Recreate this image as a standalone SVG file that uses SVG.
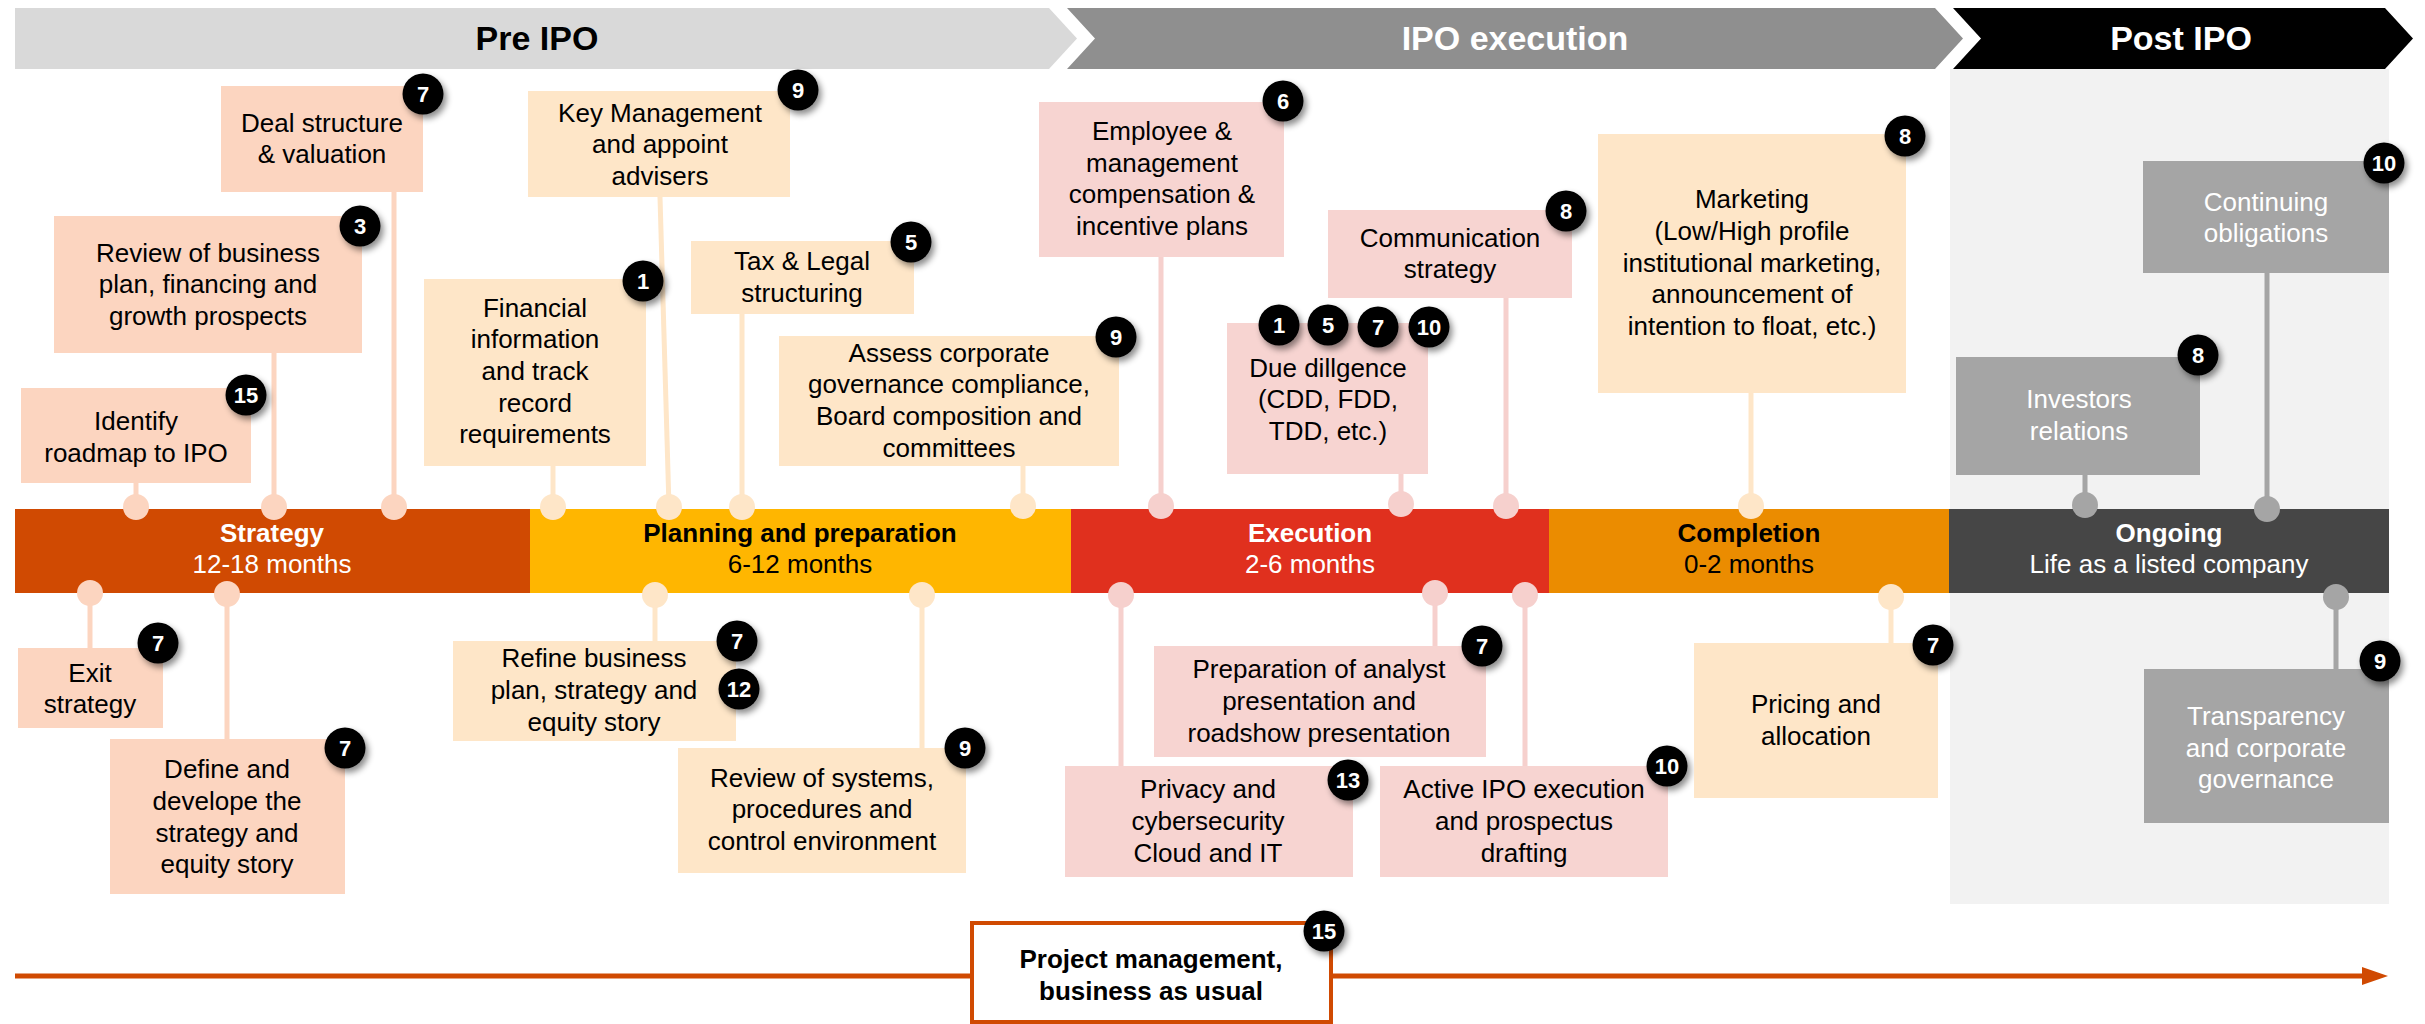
<svg xmlns="http://www.w3.org/2000/svg" width="2425" height="1024" viewBox="0 0 2425 1024">
  <style>
    text { font-family: "Liberation Sans", Arial, sans-serif; }
    .t { font-size: 26px; fill: #000; text-anchor: middle; }
    .tw { font-size: 26px; fill: #fff; text-anchor: middle; }
    .pb { font-size: 26px; font-weight: bold; text-anchor: middle; }
    .pn { font-size: 26px; text-anchor: middle; }
    .ban { font-size: 34px; font-weight: bold; text-anchor: middle; }
    .bn { font-size: 22px; font-weight: bold; fill: #fff; text-anchor: middle; }
    .s-box { fill: #fcd5c0; }
    .p-box { fill: #fee6c8; }
    .e-box { fill: #f7d4d1; }
    .o-box { fill: #a5a5a5; }
    .s-ln { stroke: #fcd5c0; stroke-width: 5; fill: none; }
    .p-ln { stroke: #fee6c8; stroke-width: 5; fill: none; }
    .e-ln { stroke: #f6d0cd; stroke-width: 5; fill: none; }
    .o-ln { stroke: #a5a5a5; stroke-width: 5; fill: none; }
    .s-dot { fill: #fcd5c0; }
    .p-dot { fill: #fee6c8; }
    .e-dot { fill: #f6d0cd; }
    .o-dot { fill: #a5a5a5; }
  </style>
  <defs>
    <filter id="shadow" x="-50%" y="-50%" width="200%" height="200%">
      <feDropShadow dx="3" dy="4" stdDeviation="3" flood-color="#000" flood-opacity="0.45"/>
    </filter>
    <g id="badge">
      <circle r="20.5" fill="#000" filter="url(#shadow)"/>
    </g>
    <marker id="arrow" markerWidth="26" markerHeight="18" refX="0" refY="9" orient="auto" markerUnits="userSpaceOnUse">
      <path d="M0,0 L26,9 L0,18 Z" fill="#d04a02"/>
    </marker>
  </defs>

  <rect width="2425" height="1024" fill="#fff"/>

  <!-- phase banners -->
  <g id="banners">
    <rect x="1950" y="69" width="439" height="835" fill="#f2f2f2"/>
    <polygon points="15,8 1049,8 1077,38.5 1049,69 15,69" fill="#d9d9d9"/>
    <text class="ban" x="537" y="50" fill="#000">Pre IPO</text>
    <polygon points="1067,8 1935,8 1963,38.5 1935,69 1067,69 1095,38.5" fill="#8f8f8f"/>
    <text class="ban" x="1515" y="50" fill="#fff">IPO execution</text>
    <polygon points="1953,8 2385,8 2413,38.5 2385,69 1953,69 1981,38.5" fill="#000"/>
    <text class="ban" x="2181" y="50" fill="#fff">Post IPO</text>
  </g>

  <!-- connectors: stems and end dots -->
  <g id="connectors">
    <line class="s-ln" x1="394" y1="192" x2="394" y2="506"/>
    <line class="s-ln" x1="274" y1="353" x2="274" y2="506"/>
    <line class="s-ln" x1="136" y1="483" x2="136" y2="506"/>
    <line class="p-ln" x1="553" y1="466" x2="553" y2="506"/>
    <line class="p-ln" x1="660" y1="197" x2="669" y2="507"/>
    <line class="p-ln" x1="742" y1="314" x2="742" y2="507"/>
    <line class="p-ln" x1="1023" y1="466" x2="1023" y2="505"/>
    <line class="e-ln" x1="1161" y1="257" x2="1161" y2="506"/>
    <line class="e-ln" x1="1506" y1="298" x2="1506" y2="506"/>
    <line class="e-ln" x1="1401" y1="474" x2="1401" y2="504"/>
    <line class="p-ln" x1="1751" y1="393" x2="1751" y2="506"/>
    <line class="o-ln" x1="2267" y1="273" x2="2267" y2="509"/>
    <line class="o-ln" x1="2085" y1="475" x2="2085" y2="505"/>

    <line class="s-ln" x1="90" y1="594" x2="90" y2="648"/>
    <line class="s-ln" x1="227" y1="594" x2="227" y2="739"/>
    <line class="p-ln" x1="655" y1="595" x2="655" y2="641"/>
    <line class="p-ln" x1="922" y1="595" x2="922" y2="748"/>
    <line class="e-ln" x1="1435" y1="593" x2="1435" y2="646"/>
    <line class="e-ln" x1="1121" y1="595" x2="1121" y2="766"/>
    <line class="e-ln" x1="1525" y1="595" x2="1525" y2="766"/>
    <line class="p-ln" x1="1891" y1="597" x2="1891" y2="643"/>
    <line class="o-ln" x1="2336" y1="597" x2="2336" y2="669"/>

    <line x1="15" y1="976" x2="2362" y2="976" stroke="#d04a02" stroke-width="5" marker-end="url(#arrow)"/>
  </g>

  <!-- timeline bar -->
  <g id="phase-strategy">
    <rect x="15" y="509" width="515" height="84" fill="#d04a02"/>
    <text class="pb" x="272" y="542" fill="#fff">Strategy</text>
    <text class="pn" x="272" y="573" fill="#fff">12-18 months</text>
  </g>
  <g id="phase-planning">
    <rect x="530" y="509" width="541" height="84" fill="#ffb600"/>
    <text class="pb" x="800" y="542" fill="#000">Planning and preparation</text>
    <text class="pn" x="800" y="573" fill="#000">6-12 months</text>
  </g>
  <g id="phase-execution">
    <rect x="1071" y="509" width="478" height="84" fill="#e0301e"/>
    <text class="pb" x="1310" y="542" fill="#fff">Execution</text>
    <text class="pn" x="1310" y="573" fill="#fff">2-6 months</text>
  </g>
  <g id="phase-completion">
    <rect x="1549" y="509" width="400" height="84" fill="#eb8c00"/>
    <text class="pb" x="1749" y="542" fill="#000">Completion</text>
    <text class="pn" x="1749" y="573" fill="#000">0-2 months</text>
  </g>
  <g id="phase-ongoing">
    <rect x="1949" y="509" width="440" height="84" fill="#464646"/>
    <text class="pb" x="2169" y="542" fill="#fff">Ongoing</text>
    <text class="pn" x="2169" y="573" fill="#fff">Life as a listed company</text>
  </g>

  <!-- dots where stems meet the bar -->
  <g id="connector-dots">
    <circle class="s-dot" cx="394" cy="507" r="13"/>
    <circle class="s-dot" cx="274" cy="507" r="13"/>
    <circle class="s-dot" cx="136" cy="507" r="13"/>
    <circle class="p-dot" cx="553" cy="507" r="13"/>
    <circle class="p-dot" cx="669" cy="507" r="13"/>
    <circle class="p-dot" cx="742" cy="507" r="13"/>
    <circle class="p-dot" cx="1023" cy="506" r="13"/>
    <circle class="e-dot" cx="1161" cy="506" r="13"/>
    <circle class="e-dot" cx="1506" cy="506" r="13"/>
    <circle class="e-dot" cx="1401" cy="504" r="13"/>
    <circle class="p-dot" cx="1751" cy="506" r="13"/>
    <circle class="o-dot" cx="2267" cy="509" r="13"/>
    <circle class="o-dot" cx="2085" cy="505" r="13"/>

    <circle class="s-dot" cx="90" cy="593" r="13"/>
    <circle class="s-dot" cx="227" cy="594" r="13"/>
    <circle class="p-dot" cx="655" cy="595" r="13"/>
    <circle class="p-dot" cx="922" cy="595" r="13"/>
    <circle class="e-dot" cx="1435" cy="593" r="13"/>
    <circle class="e-dot" cx="1121" cy="595" r="13"/>
    <circle class="e-dot" cx="1525" cy="595" r="13"/>
    <circle class="p-dot" cx="1891" cy="597" r="13"/>
    <circle class="o-dot" cx="2336" cy="597" r="13"/>
  </g>

  <!-- activities above the bar -->
  <g id="deal-structure">
    <rect class="s-box" x="221" y="86" width="202" height="106"/>
    <text class="t" x="322" y="132">Deal structure</text>
    <text class="t" x="322" y="163">&amp; valuation</text>
    <use href="#badge" x="423" y="94"/><text class="bn" x="423" y="102">7</text>
  </g>
  <g id="review-business-plan">
    <rect class="s-box" x="54" y="216" width="308" height="137"/>
    <text class="t" x="208" y="262">Review of business</text>
    <text class="t" x="208" y="293">plan, financing and</text>
    <text class="t" x="208" y="325">growth prospects</text>
    <use href="#badge" x="360" y="226"/><text class="bn" x="360" y="234">3</text>
  </g>
  <g id="identify-roadmap">
    <rect class="s-box" x="21" y="388" width="230" height="95"/>
    <text class="t" x="136" y="430">Identify</text>
    <text class="t" x="136" y="462">roadmap to IPO</text>
    <use href="#badge" x="246" y="395"/><text class="bn" x="246" y="403">15</text>
  </g>
  <g id="financial-information">
    <rect class="p-box" x="424" y="279" width="222" height="187"/>
    <text class="t" x="535" y="317">Financial</text>
    <text class="t" x="535" y="348">information</text>
    <text class="t" x="535" y="380">and track</text>
    <text class="t" x="535" y="412">record</text>
    <text class="t" x="535" y="443">requirements</text>
    <use href="#badge" x="643" y="281"/><text class="bn" x="643" y="289">1</text>
  </g>
  <g id="key-management">
    <rect class="p-box" x="528" y="91" width="262" height="106"/>
    <text class="t" x="660" y="122">Key Management</text>
    <text class="t" x="660" y="153">and appoint</text>
    <text class="t" x="660" y="185">advisers</text>
    <use href="#badge" x="798" y="90"/><text class="bn" x="798" y="98">9</text>
  </g>
  <g id="tax-legal">
    <rect class="p-box" x="691" y="241" width="223" height="73"/>
    <text class="t" x="802" y="270">Tax &amp; Legal</text>
    <text class="t" x="802" y="302">structuring</text>
    <use href="#badge" x="911" y="242"/><text class="bn" x="911" y="250">5</text>
  </g>
  <g id="corporate-governance">
    <rect class="p-box" x="779" y="336" width="340" height="130"/>
    <text class="t" x="949" y="362">Assess corporate</text>
    <text class="t" x="949" y="393">governance compliance,</text>
    <text class="t" x="949" y="425">Board composition and</text>
    <text class="t" x="949" y="457">committees</text>
    <use href="#badge" x="1116" y="337"/><text class="bn" x="1116" y="345">9</text>
  </g>
  <g id="employee-compensation">
    <rect class="e-box" x="1039" y="102" width="245" height="155"/>
    <text class="t" x="1162" y="140">Employee &amp;</text>
    <text class="t" x="1162" y="172">management</text>
    <text class="t" x="1162" y="203">compensation &amp;</text>
    <text class="t" x="1162" y="235">incentive plans</text>
    <use href="#badge" x="1283" y="101"/><text class="bn" x="1283" y="109">6</text>
  </g>
  <g id="communication-strategy">
    <rect class="e-box" x="1328" y="210" width="244" height="88"/>
    <text class="t" x="1450" y="247">Communication</text>
    <text class="t" x="1450" y="278">strategy</text>
    <use href="#badge" x="1566" y="211"/><text class="bn" x="1566" y="219">8</text>
  </g>
  <g id="due-diligence">
    <rect class="e-box" x="1227" y="323" width="201" height="151"/>
    <text class="t" x="1328" y="377">Due dillgence</text>
    <text class="t" x="1328" y="408">(CDD, FDD,</text>
    <text class="t" x="1328" y="440">TDD, etc.)</text>
    <use href="#badge" x="1279" y="325"/><text class="bn" x="1279" y="333">1</text>
    <use href="#badge" x="1328" y="325"/><text class="bn" x="1328" y="333">5</text>
    <use href="#badge" x="1378" y="327"/><text class="bn" x="1378" y="335">7</text>
    <use href="#badge" x="1429" y="327"/><text class="bn" x="1429" y="335">10</text>
  </g>
  <g id="marketing">
    <rect class="p-box" x="1598" y="134" width="308" height="259"/>
    <text class="t" x="1752" y="208">Marketing</text>
    <text class="t" x="1752" y="240">(Low/High profile</text>
    <text class="t" x="1752" y="272">institutional marketing,</text>
    <text class="t" x="1752" y="303">announcement of</text>
    <text class="t" x="1752" y="335">intention to float, etc.)</text>
    <use href="#badge" x="1905" y="136"/><text class="bn" x="1905" y="144">8</text>
  </g>
  <g id="continuing-obligations">
    <rect class="o-box" x="2143" y="161" width="246" height="112"/>
    <text class="tw" x="2266" y="211">Continuing</text>
    <text class="tw" x="2266" y="242">obligations</text>
    <use href="#badge" x="2384" y="163"/><text class="bn" x="2384" y="171">10</text>
  </g>
  <g id="investor-relations">
    <rect class="o-box" x="1956" y="357" width="244" height="118"/>
    <text class="tw" x="2079" y="408">Investors</text>
    <text class="tw" x="2079" y="440">relations</text>
    <use href="#badge" x="2198" y="355"/><text class="bn" x="2198" y="363">8</text>
  </g>

  <!-- activities below the bar -->
  <g id="exit-strategy">
    <rect class="s-box" x="18" y="648" width="145" height="80"/>
    <text class="t" x="90" y="682">Exit</text>
    <text class="t" x="90" y="713">strategy</text>
    <use href="#badge" x="158" y="643"/><text class="bn" x="158" y="651">7</text>
  </g>
  <g id="define-strategy">
    <rect class="s-box" x="110" y="739" width="235" height="155"/>
    <text class="t" x="227" y="778">Define and</text>
    <text class="t" x="227" y="810">develope the</text>
    <text class="t" x="227" y="842">strategy and</text>
    <text class="t" x="227" y="873">equity story</text>
    <use href="#badge" x="345" y="748"/><text class="bn" x="345" y="756">7</text>
  </g>
  <g id="refine-business-plan">
    <rect class="p-box" x="453" y="641" width="283" height="100"/>
    <text class="t" x="594" y="667">Refine business</text>
    <text class="t" x="594" y="699">plan, strategy and</text>
    <text class="t" x="594" y="731">equity story</text>
    <use href="#badge" x="737" y="641"/><text class="bn" x="737" y="649">7</text>
    <use href="#badge" x="739" y="689"/><text class="bn" x="739" y="697">12</text>
  </g>
  <g id="review-systems">
    <rect class="p-box" x="678" y="748" width="288" height="125"/>
    <text class="t" x="822" y="787">Review of systems,</text>
    <text class="t" x="822" y="818">procedures and</text>
    <text class="t" x="822" y="850">control environment</text>
    <use href="#badge" x="965" y="748"/><text class="bn" x="965" y="756">9</text>
  </g>
  <g id="analyst-presentation">
    <rect class="e-box" x="1154" y="646" width="332" height="111"/>
    <text class="t" x="1319" y="678">Preparation of analyst</text>
    <text class="t" x="1319" y="710">presentation and</text>
    <text class="t" x="1319" y="742">roadshow presentation</text>
    <use href="#badge" x="1482" y="646"/><text class="bn" x="1482" y="654">7</text>
  </g>
  <g id="privacy-cybersecurity">
    <rect class="e-box" x="1065" y="766" width="288" height="111"/>
    <text class="t" x="1208" y="798">Privacy and</text>
    <text class="t" x="1208" y="830">cybersecurity</text>
    <text class="t" x="1208" y="862">Cloud and IT</text>
    <use href="#badge" x="1348" y="780"/><text class="bn" x="1348" y="788">13</text>
  </g>
  <g id="active-ipo-execution">
    <rect class="e-box" x="1380" y="766" width="288" height="111"/>
    <text class="t" x="1524" y="798">Active IPO execution</text>
    <text class="t" x="1524" y="830">and prospectus</text>
    <text class="t" x="1524" y="862">drafting</text>
    <use href="#badge" x="1667" y="766"/><text class="bn" x="1667" y="774">10</text>
  </g>
  <g id="pricing-allocation">
    <rect class="p-box" x="1694" y="643" width="244" height="155"/>
    <text class="t" x="1816" y="713">Pricing and</text>
    <text class="t" x="1816" y="745">allocation</text>
    <use href="#badge" x="1933" y="645"/><text class="bn" x="1933" y="653">7</text>
  </g>
  <g id="transparency-governance">
    <rect class="o-box" x="2144" y="669" width="245" height="154"/>
    <text class="tw" x="2266" y="725">Transparency</text>
    <text class="tw" x="2266" y="757">and corporate</text>
    <text class="tw" x="2266" y="788">governance</text>
    <use href="#badge" x="2380" y="661"/><text class="bn" x="2380" y="669">9</text>
  </g>

  <!-- ongoing workstream -->
  <g id="project-management">
    <rect x="972" y="923" width="359" height="99" fill="#fff" stroke="#d04a02" stroke-width="4"/>
    <text class="pb" x="1151" y="968" fill="#000">Project management,</text>
    <text class="pb" x="1151" y="1000" fill="#000">business as usual</text>
    <use href="#badge" x="1324" y="931"/><text class="bn" x="1324" y="939">15</text>
  </g>
</svg>
